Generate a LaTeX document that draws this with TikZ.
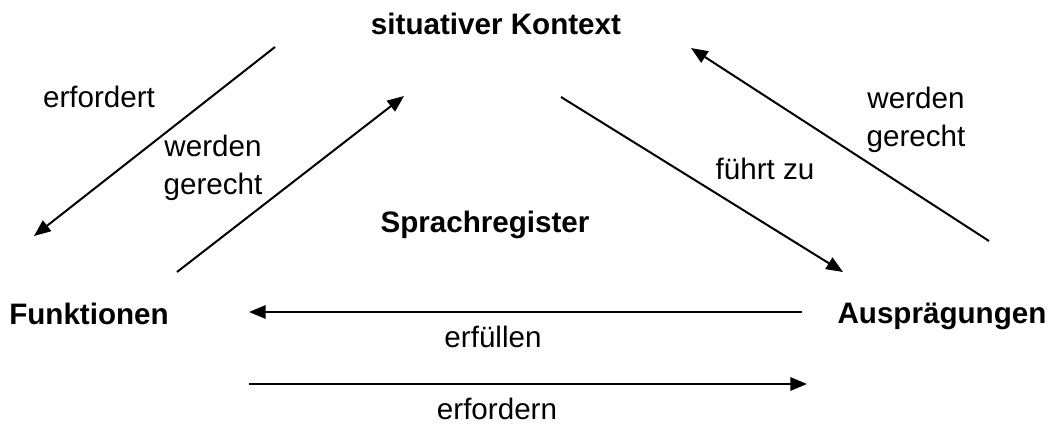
\documentclass[tikz,border=0pt]{standalone}
\usepackage{fontspec}
\setmainfont{Liberation Sans}
\usetikzlibrary{arrows.meta}
\tikzset{
  lbl/.style={anchor=base, inner sep=0pt, font=\fontsize{22.2}{28.5}\selectfont},
  blbl/.style={lbl, font=\fontsize{22.2}{28.5}\selectfont\bfseries},
  conn/.style={line width=1.5pt, -{Triangle[length=12.5pt,width=10pt]}}
}
\begin{document}
\begin{tikzpicture}[x=0.75pt,y=-0.75pt]
\useasboundingbox (0,0) rectangle (1058,424);
% text nodes
\node[blbl] (kontext) at (496,35) {situativer Kontext};
\node[blbl] (register) at (485,233) {Sprachregister};
\node[blbl] (funktionen) at (89,325) {Funktionen};
\node[blbl] (auspraegungen) at (942,324) {Ausprägungen};
\node[lbl] (erfordert) at (99,108) {erfordert};
\node[lbl] (wg1a) at (213,157) {werden};
\node[lbl] (wg1b) at (213,195) {gerecht};
\node[lbl] (wg2a) at (916,109) {werden};
\node[lbl] (wg2b) at (916,147) {gerecht};
\node[lbl] (fuehrt) at (765,180) {führt zu};
\node[lbl] (erfuellen) at (493,348) {erfüllen};
\node[lbl] (erfordern) at (497,419) {erfordern};
% connector end points
\coordinate (a1s) at (275,47);  \coordinate (a1e) at (34,236);
\coordinate (a2s) at (177,272); \coordinate (a2e) at (404,96);
\coordinate (a3s) at (561,97);  \coordinate (a3e) at (843,272);
\coordinate (a4s) at (989,241); \coordinate (a4e) at (691,48);
\coordinate (a5s) at (802,312); \coordinate (a5e) at (249,312);
\coordinate (a6s) at (249,384); \coordinate (a6e) at (807,384);
\draw[conn] (a1s) -- (a1e);
\draw[conn] (a2s) -- (a2e);
\draw[conn] (a3s) -- (a3e);
\draw[conn] (a4s) -- (a4e);
\draw[conn] (a5s) -- (a5e);
\draw[conn] (a6s) -- (a6e);
\end{tikzpicture}
\end{document}
